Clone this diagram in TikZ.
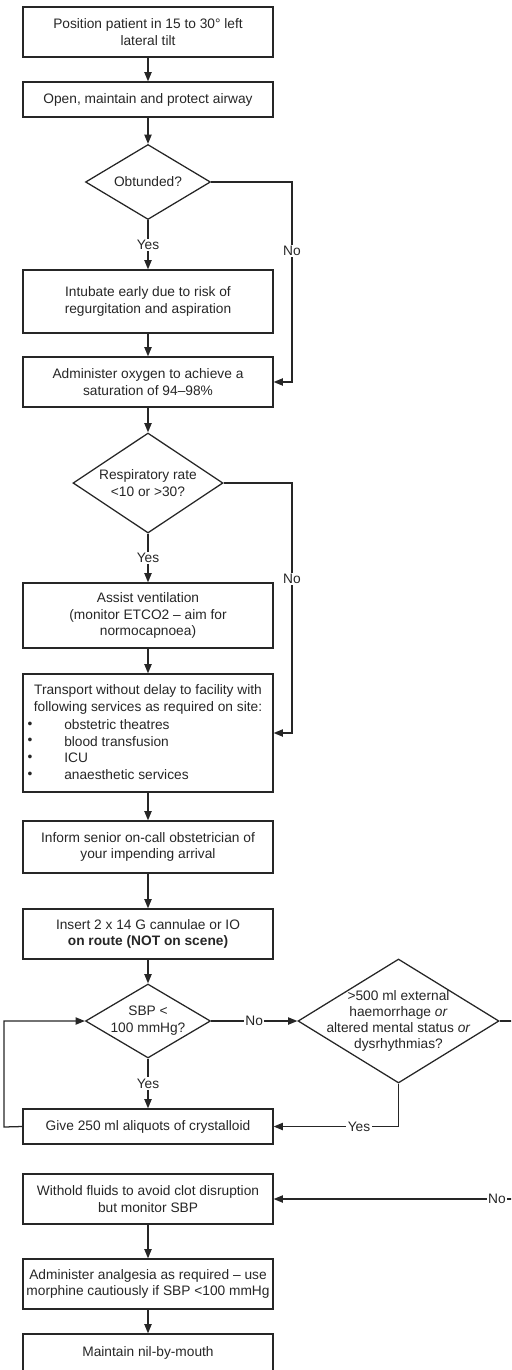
\documentclass[tikz,border=0pt]{standalone}
\usepackage{fontspec}
\setmainfont{Liberation Sans}
\usetikzlibrary{shapes.geometric,arrows.meta}
\begin{document}
\begin{tikzpicture}[x=0.75pt,y=-0.75pt,
  font=\fontsize{10.3}{12.6}\selectfont,
  every node/.style={text=black!85},
  box/.style={draw=black!85, line width=0.95pt, minimum width=187.5pt, inner sep=0pt, align=center},
  dia/.style={draw=black!85, line width=0.95pt, diamond, inner sep=0pt},
  conn/.style={draw=black!85, line width=0.95pt},
  arr/.style={conn, -{Triangle[length=7pt,width=5.5pt]}},
  lbl/.style={fill=white, inner sep=1pt},
  plain/.style={inner sep=0pt, align=center},
  item/.style={inner sep=0pt, anchor=west}
]
\useasboundingbox (0,0) rectangle (511,1370);
\clip (0,0) rectangle (511,1370);

% boxes and decisions
\node[box, minimum height=37.5pt] (b1) at (148,32) {Position patient in 15 to 30° left\\lateral tilt};
\node[box, minimum height=26.25pt] (b2) at (148,99.5) {Open, maintain and protect airway};
\node[dia, minimum width=93.75pt, minimum height=56.25pt] (d1) at (148,182) {};
\node[plain] (d1t) at (d1) {Obtunded?};
\node[box, minimum height=47.25pt] (b3) at (148,301.5) {Intubate early due to risk of\\regurgitation and aspiration};
\node[box, minimum height=37.5pt] (b4) at (148,382) {Administer oxygen to achieve a\\saturation of 94–98\%};
\node[dia, minimum width=112.5pt, minimum height=75pt] (d2) at (148,483) {};
\node[plain] (d2t) at (d2) {Respiratory rate\\<10 or >30?};
\node[box, minimum height=48.75pt] (b5) at (148,615.5) {Assist ventilation\\(monitor ETCO2 – aim for\\normocapnoea)};
\node[box, minimum height=88.5pt] (b6) at (148,733) {};
\node[plain] (b6a) at (148,691) {Transport without delay to facility with};
\node[plain] (b6b) at (148,708) {following services as required on site:};
\node[plain] (b6p1) at (30,725) {•};
\node[item] (b6i1) at (64,725) {obstetric theatres};
\node[plain] (b6p2) at (30,741.5) {•};
\node[item] (b6i2) at (64,741.5) {blood transfusion};
\node[plain] (b6p3) at (30,758) {•};
\node[item] (b6i3) at (64,758) {ICU};
\node[plain] (b6p4) at (30,775) {•};
\node[item] (b6i4) at (64,775) {anaesthetic services};
\node[box, minimum height=39pt] (b7) at (148,847) {Inform senior on-call obstetrician of\\your impending arrival};
\node[box, minimum height=37.5pt] (b8) at (148,934) {Insert 2 x 14 G cannulae or IO\\\textbf{on route (NOT on scene)}};
\node[dia, minimum width=93.75pt, minimum height=55.5pt] (d3) at (148,1021) {};
\node[plain] (d3t) at (d3) {SBP <\\100 mmHg?};
\node[dia, minimum width=150.75pt, minimum height=93pt] (d4) at (398.5,1021) {};
\node[plain, font=\fontsize{10.3}{11.8}\selectfont] (d4t) at (d4) {>500 ml external\\haemorrhage \textit{or}\\altered mental status \textit{or}\\dysrhythmias?};
\node[box, minimum height=26.25pt] (b9) at (148,1126.5) {Give 250 ml aliquots of crystalloid};
\node[box, minimum height=37.5pt] (b10) at (148,1199) {Withold fluids to avoid clot disruption\\but monitor SBP};
\node[box, minimum height=37.5pt] (b11) at (148,1284) {Administer analgesia as required – use\\morphine cautiously if SBP <100 mmHg};
\node[box, minimum height=28.5pt] (b12) at (148,1353) {Maintain nil-by-mouth};

% connectors
\draw[arr] (b1) -- (b2);
\draw[arr] (b2) -- (d1);
\draw[arr] (d1) -- node[lbl] (y1) {Yes} (b3);
\draw[arr] (b3) -- (b4);
\coordinate (n1) at (292,182);
\draw[arr] (d1.east) -- (n1) |- (b4.east);
\node[lbl] (no1) at (292,251) {No};
\draw[arr] (b4) -- (d2);
\draw[arr] (d2) -- node[lbl] (y2) {Yes} (b5);
\coordinate (n2) at (292,483);
\draw[arr] (d2.east) -- (n2) |- (b6.east);
\node[lbl] (no2) at (292,579) {No};
\draw[arr] (b5) -- (b6);
\draw[arr] (b6) -- (b7);
\draw[arr] (b7) -- (b8);
\draw[arr] (b8) -- (d3);
\draw[arr] (d3) -- node[lbl] (y3) {Yes} (b9);
\draw[arr] (d3.east) -- node[lbl] (no3) {No} (d4.west);
\draw[arr] (d4.south) |- (b9.east);
\node[lbl] (y4) at (359,1127) {Yes};
\coordinate (l1) at (4,1127);
\draw[arr] (b9.west) -- (l1) |- (d3.west);
\coordinate (r1) at (530,1021);
\draw[arr] (d4.east) -- (r1) |- (b10.east);
\node[lbl] (no4) at (497,1199) {No};
\draw[arr] (b10) -- (b11);
\draw[arr] (b11) -- (b12);
\end{tikzpicture}
\end{document}
